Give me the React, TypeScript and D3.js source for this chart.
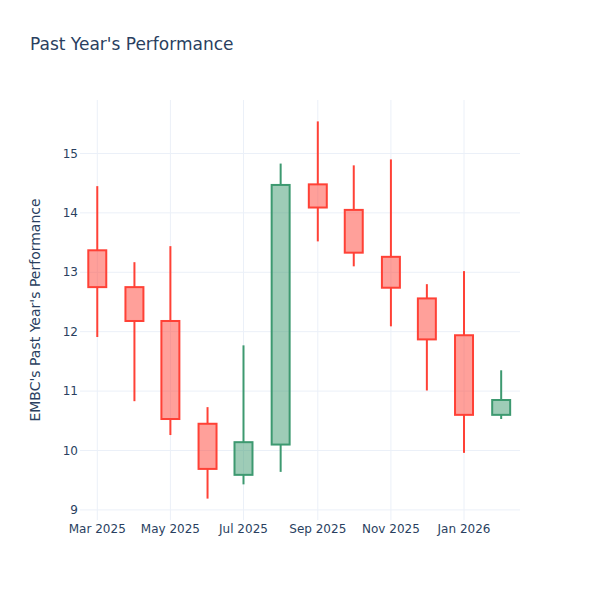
import * as d3 from "d3";

const dates = [
  "2025-03-01", "2025-04-01", "2025-05-01", "2025-06-01", "2025-07-01", "2025-08-01",
  "2025-09-01", "2025-10-01", "2025-11-01", "2025-12-01", "2026-01-01", "2026-02-01",
];
const opens = [13.37, 12.75, 12.18, 10.45, 9.59, 10.1, 14.48, 14.05, 13.26, 12.56, 11.94, 10.6];
const highs = [14.45, 13.17, 13.44, 10.73, 11.77, 14.83, 15.54, 14.8, 14.9, 12.8, 13.02, 11.35];
const lows = [11.91, 10.83, 10.26, 9.19, 9.43, 9.64, 13.52, 13.1, 12.09, 11.01, 9.96, 10.53];
const closes = [12.75, 12.18, 10.53, 9.69, 10.14, 14.47, 14.09, 13.33, 12.74, 11.87, 10.6, 10.85];

const yTicks = [9, 10, 11, 12, 13, 14, 15];
const xTicks = ["2025-03-01", "2025-05-01", "2025-07-01", "2025-09-01", "2025-11-01", "2026-01-01"];

const W = 600;
const H = 600;
const margin = { top: 100, right: 80, bottom: 80, left: 80 };
const textColor = "#2a3f5f";
const gridColor = "#ebf0f8";
const font = "DejaVu Sans, sans-serif";

const upLine = "#3D9970";
const downLine = "#FF4136";

export default function App() {
  const parse = d3.timeParse("%Y-%m-%d");
  const ds = dates.map((d) => parse(d) as Date);

  // plotly pads the range by about half a period on each side
  const x = d3
    .scaleTime()
    .domain([new Date(2025, 1, 14, 14), new Date(2026, 1, 16, 17)])
    .range([margin.left, W - margin.right]);
  const y = d3.scaleLinear().domain([8.83, 15.9]).range([H - margin.bottom, margin.top]);

  let minGap = Infinity;
  for (let i = 1; i < ds.length; i++) minGap = Math.min(minGap, x(ds[i]) - x(ds[i - 1]));
  const bw = minGap * 0.5;

  const fmt = d3.timeFormat("%b %Y");

  return (
    <div style={{ position: "absolute", left: 0, top: 0 }}>
      <svg width={W} height={H} style={{ background: "#fff", fontFamily: font }}>
        {xTicks.map((t) => {
          const xx = x(parse(t) as Date);
          return (
            <g key={t}>
              <line x1={xx} x2={xx} y1={margin.top} y2={H - margin.bottom} stroke={gridColor} />
              <text x={xx} y={H - margin.bottom + 13} textAnchor="middle" fontSize={12} fill={textColor}>
                {fmt(parse(t) as Date)}
              </text>
            </g>
          );
        })}
        {yTicks.map((t) => (
          <g key={t}>
            <line x1={margin.left} x2={W - margin.right} y1={y(t)} y2={y(t)} stroke={gridColor} />
            <text x={margin.left - 2} y={y(t)} dy="0.35em" textAnchor="end" fontSize={12} fill={textColor}>
              {t}
            </text>
          </g>
        ))}
        {ds.map((d, i) => {
          const up = closes[i] >= opens[i];
          const col = up ? upLine : downLine;
          const cx = x(d);
          const top = y(Math.max(opens[i], closes[i]));
          const bot = y(Math.min(opens[i], closes[i]));
          return (
            <g key={i}>
              <line x1={cx} x2={cx} y1={y(highs[i])} y2={top} stroke={col} strokeWidth={2} />
              <line x1={cx} x2={cx} y1={bot} y2={y(lows[i])} stroke={col} strokeWidth={2} />
              <rect
                x={cx - bw / 2}
                y={top}
                width={bw}
                height={bot - top}
                fill={col}
                fillOpacity={0.5}
                stroke={col}
                strokeWidth={2}
              />
            </g>
          );
        })}
        <text x={30} y={50} fontSize={17} fill={textColor}>
          Past Year's Performance
        </text>
        <text
          transform={`translate(40,${(margin.top + H - margin.bottom) / 2}) rotate(-90)`}
          textAnchor="middle"
          fontSize={14}
          fill={textColor}
        >
          EMBC's Past Year's Performance
        </text>
      </svg>
    </div>
  );
}
